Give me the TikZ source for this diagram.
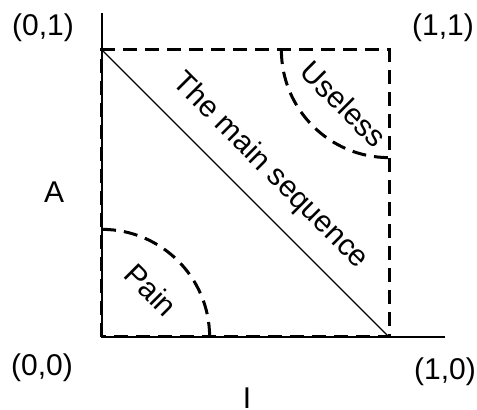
\documentclass[tikz,border=0pt]{standalone}
\usepackage{fontspec}
\setmainfont{Liberation Sans}
\usetikzlibrary{positioning}

\begin{document}
\begin{tikzpicture}[x=287pt, y=287pt,
        lbl/.style={font=\fontsize{30}{36}\selectfont, inner sep=0pt},
        zone/.style={line width=3pt, dash pattern=on 14pt off 8pt},
        axis/.style={line width=1.5pt}
    ]
        \useasboundingbox (-0.3554,-0.2509) rectangle (1.3066,1.1742);
        % corners and axis ends
        \coordinate (o) at (0,0);
        \coordinate (tl) at (0,1);
        \coordinate (br) at (1,0);
        \coordinate (tr) at (1,1);
        \coordinate (ytop) at (0,1.129);
        \coordinate (xend) at (1.195,0);
        \draw[axis] (ytop) -- (o) -- (xend);
        \draw[line width=1.2pt] (tl) -- (br);
        \draw[zone] (o) rectangle (tr);
        \draw[zone] (0.625,1) arc (180:270:0.375);
        \draw[zone] (0,0.375) arc (90:0:0.375);
        % labels
        \node[lbl] (p01) at (-0.2056,1.078) {(0,1)};
        \node[lbl] (p11) at (1.188,1.078) {(1,1)};
        \node[lbl] (p00) at (-0.2091,-0.108) {(0,0)};
        \node[lbl] (p10) at (1.195,-0.122) {(1,0)};
        \node[lbl] (ylab) at (-0.167,0.505) {A};
        \node[lbl] (xlab) at (0.505,-0.212) {I};
        \node[lbl, rotate=-45] (ms) at (0.585,0.578) {The main sequence};
        \node[lbl, rotate=-45] (useless) at (0.843,0.812) {Useless};
        \node[lbl, rotate=-45] (pain) at (0.171,0.164) {Pain};
    \end{tikzpicture}
\end{document}
